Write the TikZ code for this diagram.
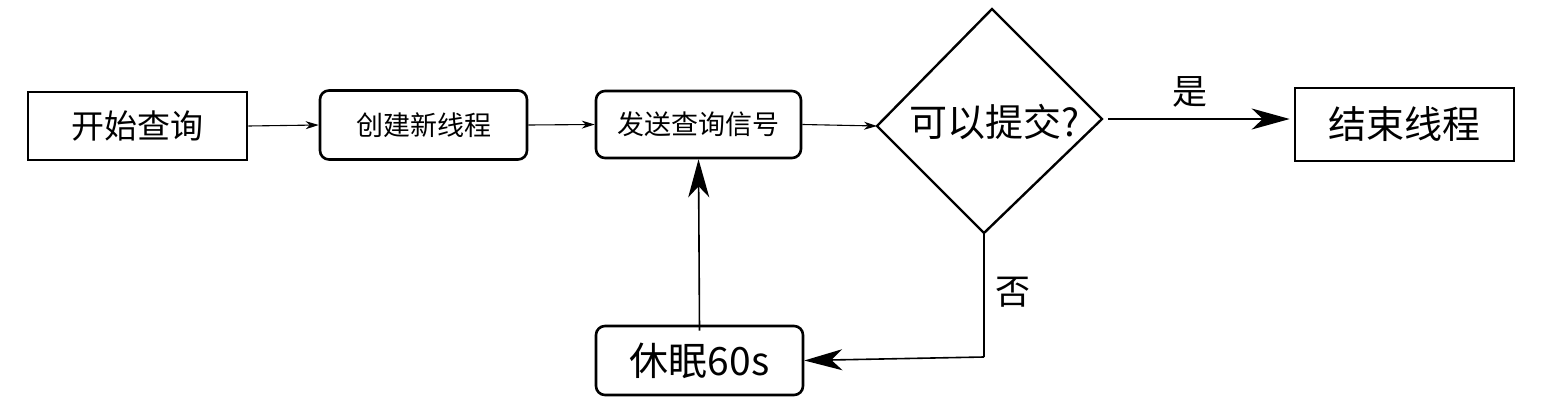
\documentclass[tikz,border=0pt]{standalone}
\usepackage{fontspec}
\setmainfont{Noto Sans CJK SC}
\usetikzlibrary{arrows.meta}
\tikzset{
  sharpbox/.style={draw, line width=2.6pt, inner sep=0pt},
  roundbox/.style={draw, line width=2.6pt, rounded corners=9pt, inner sep=0pt},
  thinarrow/.style={line width=1.1pt, -{Stealth[length=13pt,width=8pt,inset=4pt]}},
  bigarrow/.style={line width=1.6pt, -{Stealth[length=38pt,width=21pt,inset=11pt]}},
  plainline/.style={line width=2pt},
  lbl/.style={inner sep=0pt}
}
\newcommand{\fs}[1]{\fontsize{#1}{#1}\selectfont}
\begin{document}
\begin{tikzpicture}[x=1pt,y=-1pt]
\useasboundingbox (0,0) rectangle (1542,412);
\node[sharpbox, minimum width=219pt, minimum height=68pt] (start) at (137.5,126) {\fs{33}开始查询};
\node[roundbox, minimum width=207pt, minimum height=69pt] (create) at (423.5,125) {\fs{27}创建新线程};
\node[roundbox, minimum width=205pt, minimum height=67pt] (send) at (698.5,124.5) {\fs{27}发送查询信号};
\coordinate (dT) at (992,9);
\coordinate (dL) at (877,126);
\coordinate (dR) at (1102,119);
\coordinate (dB) at (984,233);
\draw[line width=2.4pt, line join=miter] (dT) -- (dR) -- (dB) -- (dL) -- cycle;
\node[lbl] (dtext) at (994,122) {\fs{38}可以提交?};
\node[sharpbox, minimum width=219pt, minimum height=73pt] (end) at (1404.5,124.5) {\fs{38}结束线程};
\node[roundbox, minimum width=207pt, minimum height=69pt] (sleep) at (699.5,360.5) {\fs{39}休眠60s};
\coordinate (corner) at (984,357);
\coordinate (endin) at (end.west |- dR);
\draw[thinarrow] (start.east) -- (create.west);
\draw[thinarrow] (create.east) -- (send.west);
\draw[thinarrow] (send.east) -- (dL);
\draw[bigarrow, shorten <=6pt, shorten >=4pt] (dR) -- (endin);
\node[lbl] (yes) at (1190,92) {\fs{35}是};
\draw[plainline] ([yshift=2pt]dB) -- (corner);
\draw[bigarrow] (corner) -- (sleep.east);
\node[lbl] (no) at (1013,292) {\fs{35}否};
\draw[bigarrow] ([yshift=-6pt]sleep.north) -- (send.south);
\end{tikzpicture}
\end{document}
